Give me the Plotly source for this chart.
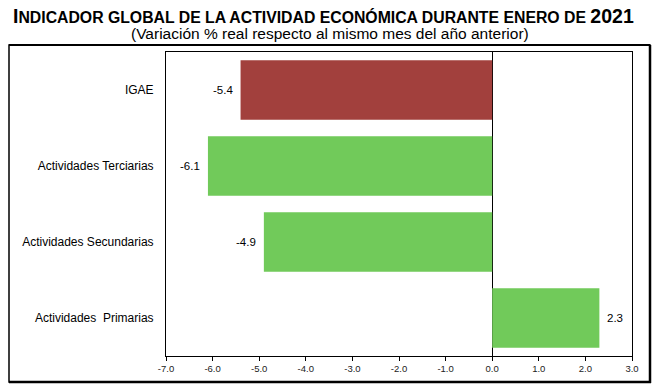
import plotly.graph_objects as go

categories = ["IGAE", "Actividades Terciarias", "Actividades Secundarias", "Actividades\u00a0 Primarias"]
values = [-5.4, -6.1, -4.9, 2.3]
bar_colors = ["#A2403D", "#71CA5A", "#71CA5A", "#71CA5A"]
x_ticks = [-7, -6, -5, -4, -3, -2, -1, 0, 1, 2, 3]
x_tick_labels = [f"{v:.1f}" for v in x_ticks]

W, H = 664, 391
L, R, T, B = 166, 32, 52, 35
pw, ph = W - L - R, H - T - B

def px(x):
    return (x - L) / pw

def py(y):
    return 1 - (y - T) / ph

fig = go.Figure()
fig.add_trace(go.Bar(
    y=categories, x=values, orientation="h",
    marker=dict(color=bar_colors, line=dict(width=0)),
    showlegend=False, hoverinfo="skip",
))

for c, v in zip(categories, values):
    fig.add_annotation(
        x=v, y=c, xref="x", yref="y",
        text=f"{v:.1f}", showarrow=False,
        xanchor="right" if v < 0 else "left",
        xshift=-6 if v < 0 else 6,
        font=dict(family="Liberation Sans, Arial, sans-serif", size=11.5, color="#000"),
    )

narrow = "Liberation Sans Narrow, Arial Narrow, Liberation Sans, sans-serif"
fig.add_annotation(
    x=px(323), y=py(16), xref="paper", yref="paper", xanchor="center", yanchor="middle",
    showarrow=False,
    text="<b><span style='font-size:19.5px'>I</span>NDICADOR GLOBAL DE LA ACTIVIDAD ECONÓMICA DURANTE ENERO DE <span style='font-size:19.5px'>2021</span></b>",
    font=dict(family=narrow, size=15.8, color="#000"),
)
fig.add_annotation(
    x=px(330), y=py(33), xref="paper", yref="paper", xanchor="center", yanchor="middle",
    showarrow=False,
    text="(Variación % real respecto al mismo mes del año anterior)",
    font=dict(family=narrow, size=15.5, color="#000"),
)

# outer frame
fig.add_shape(type="rect", xref="paper", yref="paper",
              x0=px(9), x1=px(650), y0=py(382), y1=py(45),
              fillcolor="rgba(0,0,0,0)",
              line=dict(color="#000", width=1.5), layer="below")
fig.add_shape(type="line", xref="paper", yref="paper",
              x0=px(9), x1=px(650), y0=py(45), y1=py(45),
              line=dict(color="#000", width=2), layer="above")
fig.add_shape(type="line", xref="paper", yref="paper",
              x0=px(650), x1=px(650), y0=py(383), y1=py(45),
              line=dict(color="#000", width=2.5))
fig.add_shape(type="line", xref="paper", yref="paper",
              x0=px(9), x1=px(651), y0=py(382), y1=py(382),
              line=dict(color="#000", width=2.5))

fig.update_layout(
    width=W, height=H,
    margin=dict(l=L, r=R, t=T, b=B),
    paper_bgcolor="white", plot_bgcolor="white",
    bargap=0.22,
    font=dict(family="Liberation Sans, Arial, sans-serif", color="#000"),
    xaxis=dict(
        range=[-7, 3], tickvals=x_ticks, ticktext=x_tick_labels,
        showgrid=False, zeroline=True, zerolinecolor="#000", zerolinewidth=1,
        showline=True, linecolor="#000", linewidth=1, mirror=True,
        ticks="outside", ticklen=4, tickcolor="#000", tickwidth=1,
        tickfont=dict(size=9.5, color="#222"),
    ),
    yaxis=dict(
        categoryorder="array", categoryarray=categories, autorange="reversed",
        showgrid=False, showline=True, linecolor="#000", linewidth=1, mirror=True,
        ticks="", ticklabelstandoff=9,
        tickfont=dict(size=12, color="#000"),
    ),
)

fig.write_html(
    "out.html",
    config={"displayModeBar": False},
    post_script="document.body.style.margin='0';document.body.style.padding='0';document.body.style.overflow='hidden';",
)
